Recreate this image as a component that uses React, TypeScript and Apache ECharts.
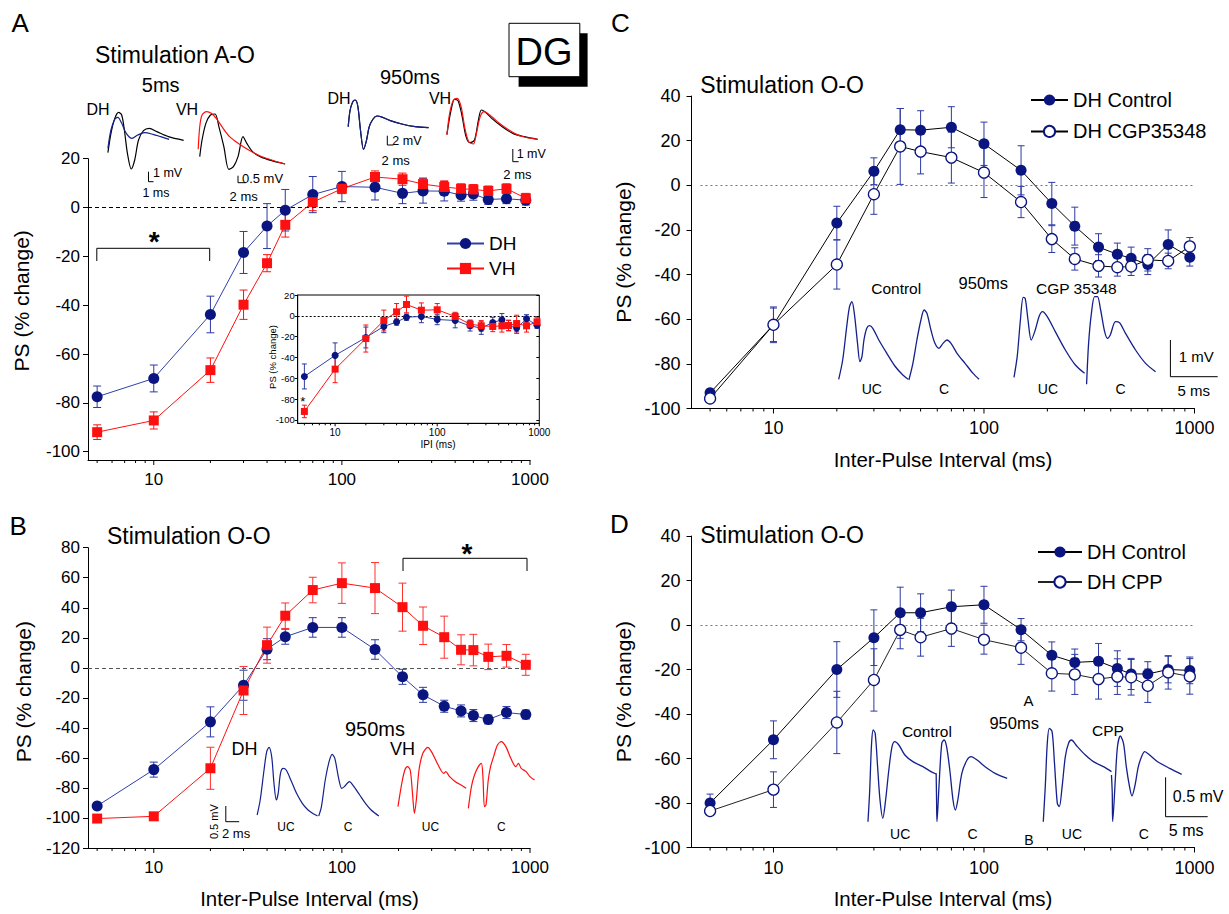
import React, { useEffect, useRef } from 'react';
import * as echarts from 'echarts';

const FONT = 'Liberation Sans';

// Inter-pulse intervals (ms)
const IPI = [5, 10, 20, 30, 40, 50, 70, 100, 150, 210, 270, 350, 430, 500, 600, 750, 950];

// Panel A – stimulation A-O, DH vs VH (PS % change, mean and SEM)
const A_DH = [-77.5, -70, -43.8, -18.4, -7.6, -1.1, 5.3, 8.6, 8.3, 5.8, 6.8, 6.7, 5.1, 5.5, 3.3, 3.6, 3.0];
const A_DH_SEM = [4.4, 5.5, 7.5, 8.6, 9.2, 8.5, 7.4, 6.2, 5.2, 4.2, 5, 4, 2.5, 2.5, 2, 2, 2];
const A_VH = [-92, -87.2, -66.6, -39.8, -22.8, -7.1, 2.2, 7.7, 12.5, 11.6, 9.6, 8.4, 7.7, 7.4, 6.8, 7.7, 3.8];
const A_VH_SEM = [3, 3.5, 5, 6, 3.5, 5, 3.5, 2, 2.5, 2.5, 2.5, 2.5, 2, 2, 2, 2, 2];

// Panel A inset
const IN_DH = [-58.2, -38, -20.8, -10.2, -6, -1.3, -0.6, -3.5, -4.5, -9.6, -11.8, -6.4, -3.8, -9.3, -11.8, -2.9, -9];
const IN_DH_SEM = [12, 12, 10, 6, 3, 3, 6, 5, 7, 5, 6, 5, 6, 5, 5, 4, 3];
const IN_VH = [-91.8, -51.2, -21.8, -4.5, 3.8, 10.9, 5.4, 5.8, -0.6, -8, -9.6, -10.2, -9.6, -9.3, -7.4, -9.6, -5.8];
const IN_VH_SEM = [6, 13, 13, 10, 8, 8, 7, 6, 4, 4, 5, 5, 6, 5, 8, 6, 4];

// Panel B – stimulation O-O, DH vs VH
const B_DH = [-92, -67.8, -36, -11.6, 12.4, 20.7, 26.9, 26.9, 12.2, -6, -18, -25.6, -28.7, -31.8, -34.4, -29.8, -31.1];
const B_DH_SEM = [1.5, 5, 10, 10, 7, 5, 6.5, 6.5, 6.5, 5, 5, 4, 4, 4, 3, 4, 3];
const B_VH = [-100.4, -98.9, -66.9, -15.1, 15.1, 34.7, 51.8, 56.4, 53.1, 40.4, 28, 20.4, 12, 11.8, 7.3, 8, 2];
const B_VH_SEM = [1, 1, 14, 16, 12, 8.5, 8.5, 13.5, 17, 16, 12.5, 14, 10, 10.5, 8.5, 7.5, 7];

// Panel C – DH control vs CGP35348
const C_CTRL = [-93, -62.5, -16.9, 6.3, 24.9, 24.7, 26, 18.6, 6.7, -8.2, -18.3, -27.7, -30.9, -32.7, -35.5, -26.5, -32.2];
const C_CTRL_SEM = [1.5, 8, 7.5, 6, 9.5, 8.7, 9.2, 9.7, 11, 9.5, 8.5, 6, 5, 5, 4.5, 6.5, 4];
const C_CGP = [-95.5, -62.5, -35.5, -4, 17.4, 15.1, 12.4, 5.7, -7.5, -24.1, -33, -36.1, -36.7, -36.4, -33.4, -33.9, -27.4];
const C_CGP_SEM = [1.5, 7.5, 11, 9, 17, 10, 11.4, 11.2, 7, 6, 5, 5, 4, 4, 5, 3.5, 4];

// Panel D – DH control vs CPP
const D_CTRL = [-80, -51.6, -20, -5.7, 5.5, 5.5, 8.2, 9.1, -2.1, -13.6, -16.8, -16.3, -19.6, -22, -22, -20, -20.4];
const D_CTRL_SEM = [4, 8.5, 12.5, 12.5, 11.5, 8.5, 7.5, 8.3, 5, 6, 6, 8, 8, 7, 5.5, 6, 6];
const D_CPP = [-83.6, -74, -43.8, -24.7, -2.2, -5.5, -1.6, -6.6, -10.2, -21.7, -22.2, -24.3, -23.2, -23.5, -27.3, -21.3, -23.1];
const D_CPP_SEM = [2, 8, 14, 14, 8.5, 8.5, 8, 6.5, 7.5, 8, 9, 9, 8, 8, 7.5, 7.5, 8];

// Tick labels
const X_TICKS = [5, 6, 7, 8, 9, 10, 20, 30, 40, 50, 60, 70, 80, 90, 100, 200, 300, 400, 500, 600, 700, 800, 900, 1000];
const X_MAJOR = [10, 100, 1000];
const A_YTICKS = [-100, -80, -60, -40, -20, 0, 20];

const TR_A_DH5_PRE = [[282, 458], [290, 400], [300, 355], [310, 337], [318, 345], [325, 390], [333, 460], [343, 507], [352, 480], [362, 420], [375, 392], [390, 385], [410, 395], [440, 410], [480, 421]];
const TR_A_DH5 = [[282, 445], [290, 390], [300, 358], [308, 352], [318, 370], [330, 400], [345, 415], [360, 405], [378, 398], [400, 403], [420, 410], [442, 418]];
const TR_A_VH5 = [[518, 448], [522, 380], [528, 345], [540, 335], [552, 340], [565, 355], [580, 380], [600, 410], [625, 432], [650, 450], [680, 468], [710, 480], [745, 492]];
const TR_A_VH5_PRE = [[522, 470], [528, 420], [538, 370], [550, 345], [562, 342], [572, 380], [585, 440], [598, 508], [610, 500], [622, 470], [635, 410], [645, 430], [660, 455], [680, 470], [710, 482], [745, 492]];
const TR_A_DH950 = [[910, 380], [915, 330], [922, 305], [928, 300], [935, 318], [942, 390], [950, 448], [957, 425], [965, 380], [975, 357], [985, 348], [1000, 352], [1020, 362], [1050, 372], [1085, 380], [1120, 383]];
const TR_A_VH950 = [[1168, 405], [1175, 340], [1185, 300], [1195, 295], [1205, 320], [1215, 385], [1225, 425], [1237, 432], [1245, 400], [1255, 350], [1265, 335], [1280, 345], [1300, 365], [1330, 390], [1360, 408], [1405, 418]];
const TR_A_VH950_PRE = [[1168, 403], [1178, 335], [1188, 298], [1197, 302], [1207, 345], [1218, 410], [1228, 428], [1240, 420], [1250, 362], [1258, 330], [1268, 336], [1285, 355], [1310, 378], [1340, 400], [1370, 410], [1405, 418]];

const TR_B_DH_UC = [[672, 945], [680, 900], [690, 810], [697, 755], [703, 742], [710, 770], [716, 850], [722, 900], [727, 880], [733, 820], [740, 805], [748, 810], [760, 840], [775, 880], [790, 910], [805, 930], [820, 942], [830, 948]];
const TR_B_DH_C = [[833, 948], [840, 920], [850, 840], [860, 785], [868, 763], [875, 775], [885, 835], [893, 865], [900, 860], [913, 845], [925, 860], [940, 885], [955, 910], [970, 930], [990, 948]];
const TR_B_VH_UC = [[1040, 920], [1050, 850], [1058, 810], [1065, 800], [1072, 810], [1078, 880], [1083, 940], [1088, 900], [1095, 810], [1105, 760], [1118, 742], [1130, 760], [1145, 795], [1160, 820], [1165, 815], [1175, 830], [1190, 845], [1205, 855], [1218, 865]];
const TR_B_VH_C = [[1224, 925], [1232, 860], [1240, 825], [1250, 800], [1258, 790], [1262, 830], [1266, 920], [1270, 915], [1276, 840], [1282, 800], [1290, 770], [1300, 735], [1310, 725], [1322, 740], [1335, 775], [1348, 800], [1355, 790], [1362, 805], [1375, 815], [1385, 830], [1397, 840]];

const TR_C_CTRL_UC = [[595, 358], [605, 300], [615, 200], [622, 140], [628, 125], [634, 160], [642, 250], [648, 305], [653, 290], [658, 240], [665, 205], [672, 197], [680, 205], [695, 240], [715, 280], [735, 318], [755, 345], [768, 358]];
const TR_C_CTRL_C = [[770, 360], [780, 310], [790, 240], [800, 180], [808, 150], [815, 160], [825, 210], [835, 250], [845, 265], [855, 250], [865, 240], [875, 250], [890, 280], [910, 310], [930, 340], [945, 358]];
const TR_C_CGP_UC = [[1032, 352], [1040, 290], [1048, 180], [1055, 112], [1060, 115], [1067, 180], [1075, 240], [1085, 210], [1095, 168], [1103, 155], [1115, 170], [1135, 215], [1160, 270], [1185, 315], [1208, 340]];
const TR_C_CGP_C = [[1213, 373], [1218, 250], [1225, 160], [1233, 110], [1240, 110], [1248, 150], [1258, 215], [1265, 235], [1272, 225], [1285, 185], [1295, 188], [1310, 220], [1335, 270], [1360, 310], [1385, 335]];

const TR_D_CTRL_UC = [[668, 485], [672, 400], [677, 250], [681, 210], [686, 220], [692, 320], [698, 420], [705, 475], [712, 420], [720, 330], [728, 260], [735, 245], [745, 255], [760, 285], [780, 305], [805, 320], [825, 335], [838, 342]];
const TR_D_CTRL_C = [[838, 340], [839, 420], [840, 485], [845, 380], [852, 250], [858, 240], [864, 260], [872, 330], [880, 420], [886, 450], [892, 420], [902, 340], [915, 300], [925, 290], [940, 300], [960, 320], [985, 340], [1015, 355]];
const TR_D_CPP_UC = [[1105, 485], [1110, 380], [1115, 250], [1120, 205], [1127, 215], [1133, 310], [1140, 430], [1145, 440], [1152, 380], [1160, 290], [1168, 250], [1175, 240], [1190, 260], [1210, 285], [1230, 305], [1255, 320], [1275, 335]];
const TR_D_CPP_C = [[1275, 345], [1277, 400], [1278, 485], [1285, 350], [1290, 260], [1297, 228], [1305, 250], [1312, 320], [1320, 380], [1326, 408], [1333, 380], [1342, 320], [1350, 290], [1358, 275], [1370, 285], [1390, 305], [1420, 325], [1450, 343]];

const NAVY = '#0b1580';
const NAVY_LINE = '#3040a8';
const RED = '#ff1010';
const ERR_BLUE = '#2c3aa2';

function pts(ys: number[]) {
  return IPI.map((x, i) => [x, ys[i]]);
}

function logLabel(v: number) {
  const l = Math.log10(v);
  return v >= 9 && Math.abs(l - Math.round(l)) < 1e-6 ? String(Math.round(v)) : '';
}

function tickSeries(xi: number, yi: number, yMin: number, majorLen: number, minorLen: number) {
  return {
    type: 'custom', xAxisIndex: xi, yAxisIndex: yi, clip: false, silent: true, z: 6,
    data: X_TICKS.map((v) => [v, yMin]),
    encode: { x: 0, y: 1 },
    renderItem: (params: any, api: any) => {
      const v = api.value(0);
      const p = api.coord([v, yMin]);
      const len = X_MAJOR.indexOf(v) >= 0 ? majorLen : minorLen;
      return { type: 'line', shape: { x1: p[0], y1: p[1], x2: p[0], y2: p[1] + len }, style: { stroke: '#000', lineWidth: 1 } };
    },
  };
}

function errSeries(xi: number, yi: number, ys: number[], es: number[], color: string, cap: number) {
  return {
    type: 'custom', xAxisIndex: xi, yAxisIndex: yi, silent: true, z: 3, clip: false,
    data: IPI.map((x, i) => [x, ys[i], es[i]]),
    encode: { x: 0, y: 1 },
    renderItem: (params: any, api: any) => {
      const x = api.value(0), y = api.value(1), e = api.value(2);
      const t = api.coord([x, y + e]);
      const b = api.coord([x, y - e]);
      const st = { stroke: color, lineWidth: 1 };
      return {
        type: 'group', children: [
          { type: 'line', shape: { x1: t[0], y1: t[1], x2: b[0], y2: b[1] }, style: st },
          { type: 'line', shape: { x1: t[0] - cap, y1: t[1], x2: t[0] + cap, y2: t[1] }, style: st },
          { type: 'line', shape: { x1: b[0] - cap, y1: b[1], x2: b[0] + cap, y2: b[1] }, style: st },
        ],
      };
    },
  };
}

function lineSeries(name: string, xi: number, yi: number, ys: number[], o: any) {
  let markLine: any = undefined;
  if (o.zero) {
    markLine = {
      silent: true, symbol: 'none', label: { show: false }, lineStyle: o.zero,
      data: o.zeroFrom ? [[{ coord: [o.zeroFrom, 0] }, { coord: [1000, 0] }]] : [{ yAxis: 0 }],
    };
  }
  return {
    type: 'line', name, xAxisIndex: xi, yAxisIndex: yi, data: pts(ys), z: 5, silent: true,
    symbol: o.symbol, symbolSize: o.size, showSymbol: true,
    lineStyle: { color: o.line, width: 1 },
    itemStyle: { color: o.fill, borderColor: o.border || o.fill, borderWidth: o.border ? 1.3 : 0 },
    markLine,
  };
}

function traceSeries(k: number, data: number[][], color: string, width = 1.2) {
  return {
    type: 'line', xAxisIndex: 5 + k, yAxisIndex: 6 + k, data, showSymbol: false, symbol: 'none',
    smooth: 0.3, silent: true, z: 2, lineStyle: { color, width },
  };
}

function logX(grid: number, min: number, size: number, margin: number) {
  return {
    gridIndex: grid, type: 'log', logBase: 10, min, max: 1000,
    axisLine: { show: true, onZero: false, lineStyle: { color: '#000', width: 1 } },
    axisTick: { show: false },
    splitLine: { show: false },
    axisLabel: { formatter: logLabel, fontSize: size, color: '#000', fontFamily: FONT, margin },
  };
}

function valY(grid: number, min: number, max: number, ticks: number[], size: number, margin: number, tickLen: number) {
  return {
    gridIndex: grid, type: 'value', min, max,
    axisLine: { show: true, onZero: false, lineStyle: { color: '#000', width: 1 } },
    axisTick: { show: true, length: tickLen, customValues: ticks, lineStyle: { color: '#000' } },
    axisLabel: { customValues: ticks, fontSize: size, color: '#000', fontFamily: FONT, margin },
    splitLine: { show: false },
  };
}

function hiddenAxis(grid: number, max: number, inverse = false) {
  return { gridIndex: grid, type: 'value', min: 0, max, inverse, show: false, splitLine: { show: false } };
}

function txt(text: string, x: number, y: number, size: number, align = 'left', rot = 0, bold = false) {
  return {
    type: 'text', x, y, rotation: rot, silent: true, z: 10,
    style: { text, fontSize: size, fontFamily: FONT, fill: '#000', align, verticalAlign: 'middle', fontWeight: bold ? 'bold' : 'normal' },
  };
}

function poly(points: number[][], w = 1) {
  return { type: 'polyline', silent: true, z: 10, shape: { points }, style: { stroke: '#000', fill: null, lineWidth: w } };
}

const rng = (a: number, b: number, s: number) => {
  const r: number[] = [];
  for (let v = a; v <= b; v += s) r.push(v);
  return r;
};

function buildOption() {
  const yB = rng(-120, 80, 20);
  const yCD = rng(-100, 40, 20);
  const R = Math.PI / 2;
  return {
    animation: false,
    textStyle: { fontFamily: FONT },
    grid: [
      { left: 88, top: 158.7, width: 442, height: 301.3 },
      { left: 297.7, top: 295, width: 241.6, height: 128.3, show: true, borderColor: '#000', borderWidth: 1, backgroundColor: '#fff' },
      { left: 88, top: 547.7, width: 442, height: 300.3 },
      { left: 691.5, top: 96, width: 503, height: 312.5 },
      { left: 691.5, top: 536, width: 503, height: 311.5 },
      { left: 0, top: 0, width: 600, height: 220 },
      { left: 0, top: 500, width: 600, height: 414 },
      { left: 600, top: 260, width: 629, height: 180 },
      { left: 600, top: 660, width: 629, height: 254 },
    ],
    xAxis: [
      logX(0, 4.47, 17, 11),
      logX(1, 4.3, 10, 4),
      logX(2, 4.47, 17, 11),
      logX(3, 4.08, 18, 10),
      logX(4, 4.08, 18, 11),
      hiddenAxis(5, 1568), hiddenAxis(6, 1568), hiddenAxis(7, 1568), hiddenAxis(8, 1568),
    ],
    yAxis: [
      valY(0, -103.4, 20, A_YTICKS, 17, 8, 5),
      valY(1, -103.2, 20, A_YTICKS, 9.5, 3, 3),
      {
        gridIndex: 1, type: 'value', min: -103.2, max: 20, position: 'right',
        axisLine: { show: false }, axisLabel: { show: false }, splitLine: { show: false },
        axisTick: { show: true, inside: true, length: 3, customValues: A_YTICKS, lineStyle: { color: '#000' } },
      },
      valY(2, -120, 80, yB, 17, 8, 5),
      valY(3, -100, 40, yCD, 18, 11, 5),
      valY(4, -100, 40, yCD, 18, 11, 5),
      hiddenAxis(5, 660, true), hiddenAxis(6, 1242, true), hiddenAxis(7, 540, true), hiddenAxis(8, 762, true),
    ],
    legend: [
      {
        data: ['DH', 'VH'], left: 446, top: 234, orient: 'vertical', itemWidth: 37, itemHeight: 14, itemGap: 6,
        padding: 0, selectedMode: false, textStyle: { fontSize: 19, color: '#000', fontFamily: FONT },
      },
      {
        data: ['DH Control', 'DH CGP35348'], left: 1030, top: 90, orient: 'vertical', itemWidth: 37, itemHeight: 14, itemGap: 11.4,
        padding: 0, selectedMode: false, textStyle: { fontSize: 20, color: '#000', fontFamily: FONT },
      },
      {
        data: ['DH Control', 'DH CPP'], left: 1037, top: 542, orient: 'vertical', itemWidth: 44, itemHeight: 14, itemGap: 10,
        padding: 0, selectedMode: false, textStyle: { fontSize: 20, color: '#000', fontFamily: FONT },
      },
    ],
    series: [
      // axis ticks on the log axes
      tickSeries(0, 0, -103.4, 5, 3),
      tickSeries(1, 1, -103.2, 3, 2),
      tickSeries(2, 3, -120, 5, 3),
      tickSeries(3, 4, -100, 5, 3),
      tickSeries(4, 5, -100, 5, 3),
      // Panel A
      errSeries(0, 0, A_DH, A_DH_SEM, ERR_BLUE, 4),
      errSeries(0, 0, A_VH, A_VH_SEM, RED, 4),
      lineSeries('DH', 0, 0, A_DH, { symbol: 'circle', size: 11, line: NAVY_LINE, fill: NAVY, zero: { type: [4, 3], color: '#000', width: 1 } }),
      lineSeries('VH', 0, 0, A_VH, { symbol: 'rect', size: 10, line: RED, fill: RED }),
      // inset
      errSeries(1, 1, IN_DH, IN_DH_SEM, ERR_BLUE, 2.5),
      errSeries(1, 1, IN_VH, IN_VH_SEM, RED, 2.5),
      lineSeries('DH inset', 1, 1, IN_DH, { symbol: 'circle', size: 7, line: NAVY_LINE, fill: NAVY, zero: { type: [2, 2], color: '#000', width: 1 } }),
      lineSeries('VH inset', 1, 1, IN_VH, { symbol: 'rect', size: 7, line: RED, fill: RED }),
      // Panel B
      errSeries(2, 3, B_DH, B_DH_SEM, ERR_BLUE, 4),
      errSeries(2, 3, B_VH, B_VH_SEM, '#ff3030', 4),
      lineSeries('DH', 2, 3, B_DH, { symbol: 'circle', size: 11, line: NAVY_LINE, fill: NAVY, zero: { type: [4, 3], color: '#555', width: 1 } }),
      lineSeries('VH', 2, 3, B_VH, { symbol: 'rect', size: 10, line: RED, fill: RED }),
      // Panel C
      errSeries(3, 4, C_CTRL, C_CTRL_SEM, ERR_BLUE, 3.5),
      errSeries(3, 4, C_CGP, C_CGP_SEM, ERR_BLUE, 3.5),
      lineSeries('DH Control', 3, 4, C_CTRL, { symbol: 'circle', size: 11, line: '#000', fill: NAVY, zero: { type: [2, 3], color: '#777', width: 1 }, zeroFrom: 4.5 }),
      lineSeries('DH CGP35348', 3, 4, C_CGP, { symbol: 'circle', size: 11, line: '#000', fill: '#fff', border: NAVY }),
      // Panel D
      errSeries(4, 5, D_CTRL, D_CTRL_SEM, ERR_BLUE, 3.5),
      errSeries(4, 5, D_CPP, D_CPP_SEM, ERR_BLUE, 3.5),
      lineSeries('DH Control', 4, 5, D_CTRL, { symbol: 'circle', size: 11, line: '#000', fill: NAVY, zero: { type: [2, 3], color: '#777', width: 1 }, zeroFrom: 4.5 }),
      lineSeries('DH CPP', 4, 5, D_CPP, { symbol: 'circle', size: 11, line: '#222', fill: '#fff', border: NAVY }),
      // traces
      traceSeries(0, TR_A_DH5_PRE, '#000'),
      traceSeries(0, TR_A_DH5, '#14208c'),
      traceSeries(0, TR_A_VH5_PRE, '#000'),
      traceSeries(0, TR_A_VH5, RED),
      traceSeries(0, TR_A_DH950, '#000'),
      traceSeries(0, TR_A_DH950, '#14208c'),
      traceSeries(0, TR_A_VH950_PRE, '#000'),
      traceSeries(0, TR_A_VH950, RED),
      traceSeries(1, TR_B_DH_UC, '#14208c'),
      traceSeries(1, TR_B_DH_C, '#14208c'),
      traceSeries(1, TR_B_VH_UC, RED),
      traceSeries(1, TR_B_VH_C, RED),
      traceSeries(2, TR_C_CTRL_UC, '#14208c', 1.3),
      traceSeries(2, TR_C_CTRL_C, '#14208c', 1.3),
      traceSeries(2, TR_C_CGP_UC, '#14208c', 1.3),
      traceSeries(2, TR_C_CGP_C, '#14208c', 1.3),
      traceSeries(3, TR_D_CTRL_UC, '#14208c', 1.3),
      traceSeries(3, TR_D_CTRL_C, '#14208c', 1.3),
      traceSeries(3, TR_D_CPP_UC, '#14208c', 1.3),
      traceSeries(3, TR_D_CPP_C, '#14208c', 1.3),
    ],
    graphic: [
      // panel letters
      txt('A', 11.5, 22.5, 26), txt('B', 9.6, 526, 26), txt('C', 611, 22.5, 26), txt('D', 610, 524, 26),
      // titles
      txt('Stimulation A-O', 95, 54.5, 23), txt('Stimulation O-O', 107, 536, 23),
      txt('Stimulation O-O', 700.3, 85, 23), txt('Stimulation O-O', 700.3, 535, 23),
      // DG box
      { type: 'rect', silent: true, z: 9, shape: { x: 518.6, y: 33.3, width: 69, height: 53.4 }, style: { fill: '#000' } },
      { type: 'rect', silent: true, z: 9, shape: { x: 509, y: 23.3, width: 70.8, height: 53.4 }, style: { fill: '#fff', stroke: '#000', lineWidth: 1 } },
      txt('DG', 544, 51.7, 38, 'center'),
      // panel A trace labels
      txt('5ms', 160.7, 84.5, 20, 'center'), txt('950ms', 410, 77, 20, 'center'),
      txt('DH', 98, 109, 16, 'center'), txt('VH', 187, 109, 16, 'center'),
      txt('DH', 339, 98, 16, 'center'), txt('VH', 440, 98, 16, 'center'),
      poly([[148.5, 171.7], [148.5, 181.7], [153.5, 181.7]]),
      txt('1 mV', 153, 173.3, 12.5), txt('1 ms', 142.4, 192.7, 12.5),
      poly([[238, 175.7], [238, 182.7], [245.7, 182.7]]),
      txt('0.5 mV', 241.9, 178.3, 13), txt('2 ms', 229.6, 196.7, 13),
      poly([[387.3, 135.7], [387.3, 145], [393.4, 145]]),
      txt('2 mV', 392.3, 140.7, 12.5), txt('2 ms', 381.6, 160, 13),
      poly([[512.8, 149], [512.8, 161.7], [518.6, 161.7]]),
      txt('1 mV', 516.7, 154, 12.5), txt('2 ms', 503.3, 174, 13),
      // significance brackets
      poly([[96.8, 261], [96.8, 248.3], [209.7, 248.3], [209.7, 261]]),
      txt('*', 154.2, 241.5, 28, 'center', 0, true),
      poly([[403, 571], [403, 558.3], [527, 558.3], [527, 571]]),
      txt('*', 467, 553, 28, 'center', 0, true),
      // inset texts
      txt('PS (% change)', 272.7, 357, 9.5, 'center', R), txt('IPI (ms)', 438, 444, 10, 'center'),
      txt('*', 302.7, 401, 13, 'center'),
      // panel B trace labels
      txt('950ms', 375, 729, 20, 'center'), txt('DH', 244.6, 749.3, 18, 'center'), txt('VH', 402.5, 749.3, 18, 'center'),
      txt('UC', 286, 826.7, 12, 'center'), txt('C', 348, 826.7, 12, 'center'),
      txt('UC', 430.5, 826.7, 12, 'center'), txt('C', 501.3, 826.7, 12, 'center'),
      poly([[225.8, 806], [225.8, 821.7], [239.2, 821.7]]),
      txt('0.5 mV', 214.3, 821.7, 11, 'center', R), txt('2 ms', 222, 833.3, 13),
      // panel C trace labels
      txt('Control', 896.2, 288, 15.5, 'center'), txt('950ms', 983.3, 282.7, 16.5, 'center'), txt('CGP 35348', 1076.3, 288, 15.5, 'center'),
      txt('UC', 871.8, 389.3, 14, 'center'), txt('C', 944, 389.3, 14, 'center'),
      txt('UC', 1047.9, 389.3, 14, 'center'), txt('C', 1120.5, 389.3, 14, 'center'),
      poly([[1170.4, 340], [1170.4, 376.7], [1217.7, 376.7]]),
      txt('1 mV', 1178.8, 356.7, 15), txt('5 ms', 1177.6, 390, 15),
      // panel D trace labels
      txt('A', 1028.4, 700, 15, 'center'), txt('950ms', 1014.2, 723.3, 16.5, 'center'),
      txt('Control', 926.9, 731.7, 15.5, 'center'), txt('CPP', 1108, 730, 15.5, 'center'),
      txt('UC', 900.2, 834, 14, 'center'), txt('C', 972.6, 834, 14, 'center'), txt('B', 1028.8, 840, 14, 'center'),
      txt('UC', 1071.9, 834, 14, 'center'), txt('C', 1143.7, 834, 14, 'center'),
      poly([[1165.6, 777.3], [1165.6, 816.7], [1207.7, 816.7]]),
      txt('0.5 mV', 1172.8, 796, 16), txt('5 ms', 1168.8, 830, 16),
      // axis titles
      txt('PS (% change)', 21, 300.8, 21, 'center', R), txt('PS (% change)', 23, 691.7, 21, 'center', R),
      txt('PS (% change)', 623, 252, 21, 'center', R), txt('PS (% change)', 623, 691.5, 21, 'center', R),
      txt('Inter-Pulse Interval (ms)', 309.5, 898.3, 20.5, 'center'),
      txt('Inter-Pulse Interval (ms)', 943, 459.5, 20.5, 'center'),
      txt('Inter-Pulse Interval (ms)', 943, 898.3, 20.5, 'center'),
    ],
  };
}

export default function App() {
  const ref = useRef<HTMLDivElement>(null);
  useEffect(() => {
    if (!ref.current) return;
    const chart = echarts.init(ref.current, null, { renderer: 'svg' });
    chart.setOption(buildOption() as any);
    return () => chart.dispose();
  }, []);
  return (
    <div
      ref={ref}
      style={{ position: 'absolute', left: 0, top: 0, width: 1229, height: 914, background: '#fff' }}
    />
  );
}
